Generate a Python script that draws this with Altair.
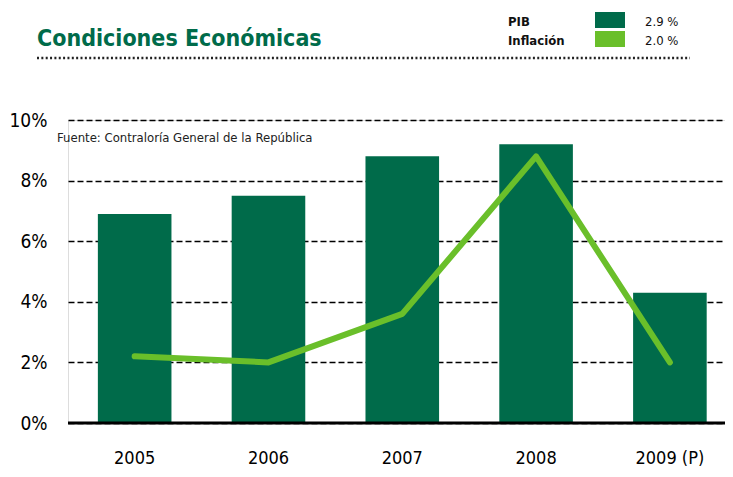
import altair as alt
import pandas as pd

years = ["2005", "2006", "2007", "2008", "2009 (P)"]
pib = [6.9, 7.5, 8.8, 9.2, 4.3]
inflacion = [2.2, 2.0, 3.6, 8.8, 2.0]
y_ticks = [0, 2, 4, 6, 8, 10]
legend_names = ["PIB", "Inflación"]
legend_values = ["2.9 %", "2.0 %"]
legend_colors = ["#006B4A", "#6ABF2A"]
title_text = "Condiciones Económicas"
source_text = "Fuente: Contraloría General de la República"

DARK = "#006B4A"
LIGHT = "#6ABF2A"
FONT = "DejaVu Sans Condensed, DejaVu Sans, sans-serif"

df = pd.DataFrame({"year": years, "pib": pib, "inf": inflacion})

x = alt.X(
    "year:N", sort=years,
    scale=alt.Scale(paddingInner=0.45, paddingOuter=0.18, align=0.62),
    axis=alt.Axis(title=None, labelAngle=0, labelFontSize=18, labelPadding=26,
                  ticks=False, domain=False, labelColor="black", labelFont=FONT),
)
y = alt.Y(
    "pib:Q", scale=alt.Scale(domain=[0, 10]),
    axis=alt.Axis(title=None, values=y_ticks, labelExpr="datum.value + '%'",
                  grid=True, gridDash=[6, 3], gridColor="black", gridWidth=1.5,
                  domain=False, ticks=False, labelFontSize=19, labelPadding=21,
                  labelColor="black", labelFont=FONT),
)

bars = alt.Chart(df).mark_bar(color=DARK).encode(x=x, y=y)
line = alt.Chart(df).mark_line(
    color=LIGHT, strokeWidth=6, strokeCap="round", strokeJoin="round"
).encode(x=alt.X("year:N", sort=years), y=alt.Y("inf:Q"))

zero = alt.Chart(pd.DataFrame({"v": [0]})).mark_rule(
    color="black", strokeWidth=3
).encode(y="v:Q")

one = pd.DataFrame({"a": [0]})

title = alt.Chart(one).mark_text(
    text=title_text, font=FONT, fontSize=23, fontWeight="bold", color=DARK,
    align="left", baseline="alphabetic"
).encode(x=alt.value(-31), y=alt.value(-74))

dots = alt.Chart(one).mark_rule(
    color="#222222", strokeWidth=2.5, strokeDash=[2, 2.35]
).encode(x=alt.value(-31), x2=alt.value(622), y=alt.value(-62))

source = alt.Chart(one).mark_text(
    text=source_text, font=FONT, fontSize=13, color="#222222",
    align="left", baseline="middle"
).encode(x=alt.value(-11), y=alt.value(18))

legend_layers = []
for i in range(2):
    base_y = -94 + i * 19
    legend_layers.append(
        alt.Chart(one).mark_text(
            text=legend_names[i], font=FONT, fontSize=13, fontWeight="bold",
            color="#111111", align="left", baseline="alphabetic"
        ).encode(x=alt.value(440), y=alt.value(base_y))
    )
    legend_layers.append(
        alt.Chart(one).mark_rect(color=legend_colors[i]).encode(
            x=alt.value(527), x2=alt.value(557),
            y=alt.value(base_y - 14), y2=alt.value(base_y + 2)
        )
    )
    legend_layers.append(
        alt.Chart(one).mark_text(
            text=legend_values[i], font=FONT, fontSize=13,
            color="#111111", align="left", baseline="alphabetic"
        ).encode(x=alt.value(577), y=alt.value(base_y))
    )

chart = alt.layer(bars, line, zero, title, dots, source, *legend_layers).properties(
    width=657, height=303,
    autosize=alt.AutoSizeParams(type="none"),
    padding={"left": 60, "top": 112, "right": 0, "bottom": 46},
).configure_view(stroke=None).configure(font=FONT)

chart.save("out.html", embed_options={"renderer": "svg", "actions": False})
